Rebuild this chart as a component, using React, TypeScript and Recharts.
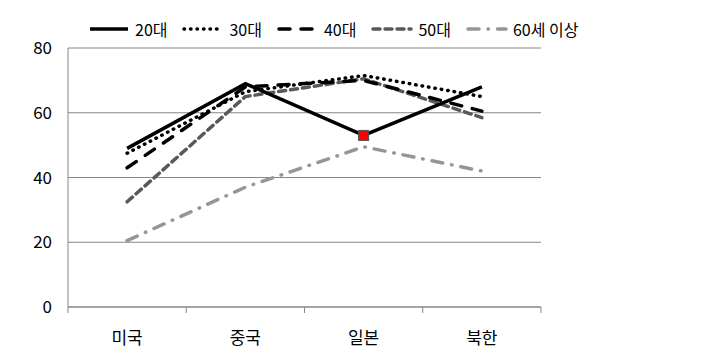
import React from 'react';
import { LineChart, Line, XAxis, YAxis, CartesianGrid } from 'recharts';

const categories = ['미국', '중국', '일본', '북한'];
const s20 = [49, 69, 53, 68];
const s30 = [47.5, 66.5, 71.5, 65];
const s40 = [43, 68, 70, 60.5];
const s50 = [32.5, 65, 70.5, 58.5];
const s60 = [20.5, 37, 49.5, 42];
const yTicks = [0, 20, 40, 60, 80];
const boundaryTicks = [0, 1, 2, 3, 4];
const labelTicks = [0.5, 1.5, 2.5, 3.5];

const series = [
  { key: 's20', name: '20대', color: '#000000', dash: undefined, width: 3.5 },
  { key: 's30', name: '30대', color: '#000000', dash: '0.5 6', width: 3.5 },
  { key: 's40', name: '40대', color: '#000000', dash: '11 11', width: 3.5 },
  { key: 's50', name: '50대', color: '#595959', dash: '7 5', width: 3.5 },
  { key: 's60', name: '60세 이상', color: '#969696', dash: '11 9 0.5 9', width: 3.5 },
];

const data = categories.map((c, i) => ({
  x: i + 0.5,
  name: c,
  s20: s20[i],
  s30: s30[i],
  s40: s40[i],
  s50: s50[i],
  s60: s60[i],
}));

const FONT = '"Noto Sans CJK KR", "Noto Sans", sans-serif';

const LegendContent = () => (
  <div style={{ display: 'flex', alignItems: 'center', fontFamily: FONT, fontSize: 16, color: '#000', lineHeight: '20px' }}>
    {series.map((s) => (
      <div key={s.key} style={{ display: 'flex', alignItems: 'center', marginRight: 15 }}>
        <svg width={42} height={10} style={{ marginRight: 5 }}>
          <line
            x1={2}
            y1={5}
            x2={40}
            y2={5}
            stroke={s.color}
            strokeWidth={s.width}
            strokeDasharray={s.dash}
            strokeLinecap={s.dash ? 'round' : 'butt'}
          />
        </svg>
        <span>{s.name}</span>
      </div>
    ))}
  </div>
);

const EmptyTick = () => <g />;

const RedSquare = (props: any) => {
  const { cx, cy, index } = props;
  if (index !== 2) return <g key={`d${index}`} />;
  return (
    <rect key={`d${index}`} x={cx - 5} y={cy - 5} width={10} height={10} fill="#ff0000" stroke="#505050" strokeWidth={1} />
  );
};

export default function App() {
  const order = [...series].reverse();
  return (
    <div style={{ position: 'relative', width: 698, height: 350 }}>
      <LineChart
        width={698}
        height={350}
        data={data}
        margin={{ top: 40, right: 165, bottom: 11, left: 20 }}
        style={{ fontFamily: FONT }}
      >
        <CartesianGrid vertical={false} stroke="#868686" strokeWidth={1} />
        <XAxis
          type="number"
          dataKey="x"
          domain={[0, 4]}
          ticks={boundaryTicks}
          tick={<EmptyTick />}
          stroke="#868686"
          tickSize={6}
          height={1}
          allowDataOverflow
        />
        <XAxis
          xAxisId="lbl"
          type="number"
          dataKey="x"
          domain={[0, 4]}
          ticks={labelTicks}
          tickFormatter={(v: number) => categories[Math.floor(v)]}
          axisLine={false}
          tickLine={false}
          tickSize={0}
          tickMargin={24}
          height={39}
          tick={{ fill: '#000', fontSize: 17 }}
        />
        <YAxis
          domain={[0, 80]}
          ticks={yTicks}
          stroke="#868686"
          tickLine={false}
          tickSize={0}
          tickMargin={16}
          width={40}
          tick={{ fill: '#000', fontSize: 17 }}
        />
        {order.map((s) => (
          <Line
            key={s.key}
            type="linear"
            dataKey={s.key}
            name={s.name}
            stroke={s.color}
            strokeWidth={s.width}
            strokeDasharray={s.dash}
            strokeLinecap={s.dash ? 'round' : 'butt'}
            dot={s.key === 's20' ? RedSquare : false}
            activeDot={false}
            isAnimationActive={false}
          />
        ))}
      </LineChart>
      <div style={{ position: 'absolute', top: 11, left: 80 }}>
        <LegendContent />
      </div>
    </div>
  );
}
